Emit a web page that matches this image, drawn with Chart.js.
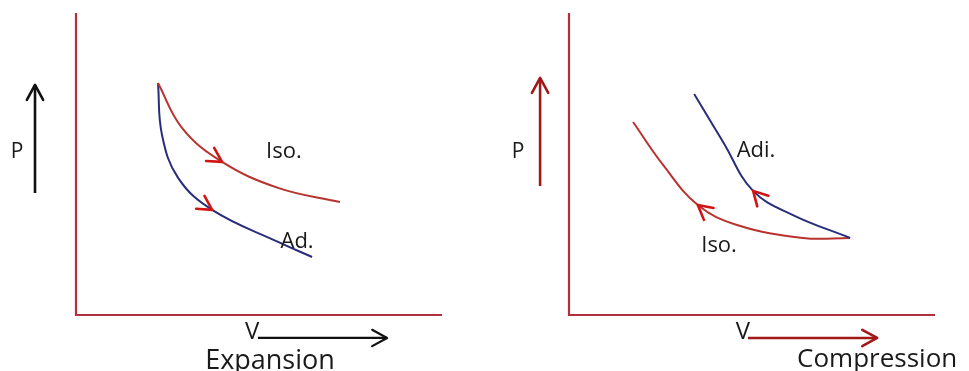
<!DOCTYPE html>
<html lang="en">
<head>
  <meta charset="UTF-8">
  <title>Expansion / Compression P-V</title>
  <script src="https://cdn.jsdelivr.net/npm/chart.js"></script>
  <style>
    body { margin: 0; background: #fff; }
    #wrap { position: relative; width: 969px; height: 371px; }
    canvas { position: absolute; top: 0; }
    #left { left: 0; }
    #right { left: 490px; }
  </style>
</head>
<body>
<div id="wrap">
  <canvas id="left" width="490" height="371"></canvas>
  <canvas id="right" width="479" height="371"></canvas>
</div>
<script>
// values in V / P units, axes run 0..10 on both
const axisFrame = [{x: 0, y: 10}, {x: 0, y: 0}, {x: 10, y: 0}];

// expansion panel
const expIso = [
  {x: 2.24, y: 7.68}, {x: 2.90, y: 6.19}, {x: 3.99, y: 5.07}, {x: 5.52, y: 4.21},
  {x: 7.21, y: 3.74}
];
const expAdi = [
  {x: 2.24, y: 7.68}, {x: 2.35, y: 5.96}, {x: 2.79, y: 4.54}, {x: 3.72, y: 3.48},
  {x: 5.52, y: 2.42}, {x: 6.45, y: 1.92}
];
const expPArrow = [{x: -1.12, y: 4.04}, {x: -1.12, y: 7.62}];
const expVArrow = [{x: 4.97, y: -0.76}, {x: 8.50, y: -0.76}];

// compression panel
const cmpAdi = [
  {x: 3.42, y: 7.32}, {x: 4.21, y: 5.73}, {x: 5.03, y: 4.11}, {x: 6.12, y: 3.31},
  {x: 7.68, y: 2.55}
];
const cmpIso = [
  {x: 1.75, y: 6.39}, {x: 2.57, y: 4.97}, {x: 3.52, y: 3.64}, {x: 4.59, y: 2.98},
  {x: 6.39, y: 2.55}, {x: 7.68, y: 2.55}
];
const cmpPArrow = [{x: -0.79, y: 4.27}, {x: -0.79, y: 7.85}];
const cmpVArrow = [{x: 4.89, y: -0.76}, {x: 8.42, y: -0.76}];

const expLabels = [
  {text: "P", x: -1.61, y: 5.40, size: 21},
  {text: "Iso.", x: 5.68, y: 5.40, size: 22},
  {text: "Ad.", x: 6.04, y: 2.42, size: 22},
  {text: "V", x: 4.81, y: -0.56, size: 24},
  {text: "Expansion", x: 5.30, y: -1.52, size: 27}
];
const cmpLabels = [
  {text: "P", x: -1.39, y: 5.40, size: 21},
  {text: "Adi.", x: 5.11, y: 5.43, size: 22},
  {text: "Iso.", x: 4.10, y: 2.28, size: 22},
  {text: "V", x: 4.75, y: -0.56, size: 24},
  {text: "Compression", x: 8.42, y: -1.49, size: 26}
];

const AXIS = "#b0303c";
const RED = "#b8322e";
const HEAD = "#d11414";
const BLUE = "#2a2d7c";
const DARK = "#111";
const DARKRED = "#a01818";

// arrow heads + text labels, placed through the scales
const extras = {
  id: "extras",
  afterDatasetsDraw(chart, args, opts) {
    const ctx = chart.ctx;
    const xs = chart.scales.x, ys = chart.scales.y;
    chart.data.datasets.forEach((ds, i) => {
      if (!ds.heads) return;
      const pts = chart.getDatasetMeta(i).data;
      ds.heads.forEach(h => {
        const p = pts[h.at];
        let ang;
        if (h.at > 0 && h.at < pts.length - 1 && p.cp1x !== undefined) {
          // tangent of the drawn spline at this point
          ang = Math.atan2(p.cp2y - p.cp1y, p.cp2x - p.cp1x);
        } else {
          const a = pts[Math.max(h.at - 1, 0)];
          const b = pts[Math.min(h.at + 1, pts.length - 1)];
          ang = Math.atan2(b.y - a.y, b.x - a.x);
        }
        if (h.dir < 0) ang += Math.PI;
        const len = h.len || 16, spread = 0.5;
        ctx.save();
        ctx.strokeStyle = h.color;
        ctx.lineWidth = h.width || 2.6;
        ctx.lineCap = "round";
        ctx.lineJoin = "round";
        ctx.beginPath();
        ctx.moveTo(p.x - len * Math.cos(ang - spread), p.y - len * Math.sin(ang - spread));
        ctx.lineTo(p.x, p.y);
        ctx.lineTo(p.x - len * Math.cos(ang + spread), p.y - len * Math.sin(ang + spread));
        ctx.stroke();
        ctx.restore();
      });
    });
    ctx.save();
    ctx.fillStyle = "#1a1a1a";
    ctx.textAlign = "center";
    ctx.textBaseline = "middle";
    opts.labels.forEach(l => {
      ctx.font = l.size + "px 'Open Sans', 'Liberation Sans', sans-serif";
      ctx.fillText(l.text, xs.getPixelForValue(l.x), ys.getPixelForValue(l.y));
    });
    ctx.restore();
  }
};

function line(data, color, width, heads, smooth) {
  return {
    data: data,
    borderColor: color,
    borderWidth: width,
    pointRadius: 0,
    tension: smooth ? 0.4 : 0,
    clip: false,
    heads: heads
  };
}

function makeChart(id, datasets, labels, pad) {
  return new Chart(document.getElementById(id), {
    type: "line",
    data: { datasets: datasets },
    options: {
      responsive: false,
      animation: false,
      devicePixelRatio: 1,
      layout: { padding: pad },
      scales: {
        x: { type: "linear", min: 0, max: 10, display: false },
        y: { type: "linear", min: 0, max: 10, display: false }
      },
      plugins: {
        legend: { display: false },
        tooltip: { enabled: false },
        extras: { labels: labels }
      }
    },
    plugins: [extras]
  });
}

makeChart("left", [
  line(axisFrame, AXIS, 2.2),
  line(expIso, RED, 2, [{at: 2, dir: 1, color: HEAD}], true),
  line(expAdi, BLUE, 2, [{at: 3, dir: 1, color: HEAD}], true),
  line(expPArrow, DARK, 2.6, [{at: 1, dir: 1, color: DARK, width: 2.6, len: 17}]),
  line(expVArrow, DARK, 2.2, [{at: 1, dir: 1, color: DARK, width: 2.2, len: 17}])
], expLabels, { left: 76, top: 13, right: 48, bottom: 56 });

makeChart("right", [
  line(axisFrame, AXIS, 2.2),
  line(cmpAdi, BLUE, 2, [{at: 2, dir: -1, color: HEAD}], true),
  line(cmpIso, RED, 2, [{at: 2, dir: -1, color: HEAD}], true),
  line(cmpPArrow, DARKRED, 2.6, [{at: 1, dir: 1, color: DARKRED, width: 2.6, len: 17}]),
  line(cmpVArrow, DARKRED, 2.6, [{at: 1, dir: 1, color: DARKRED, width: 2.6, len: 17}])
], cmpLabels, { left: 79, top: 13, right: 34, bottom: 56 });
</script>
</body>
</html>
